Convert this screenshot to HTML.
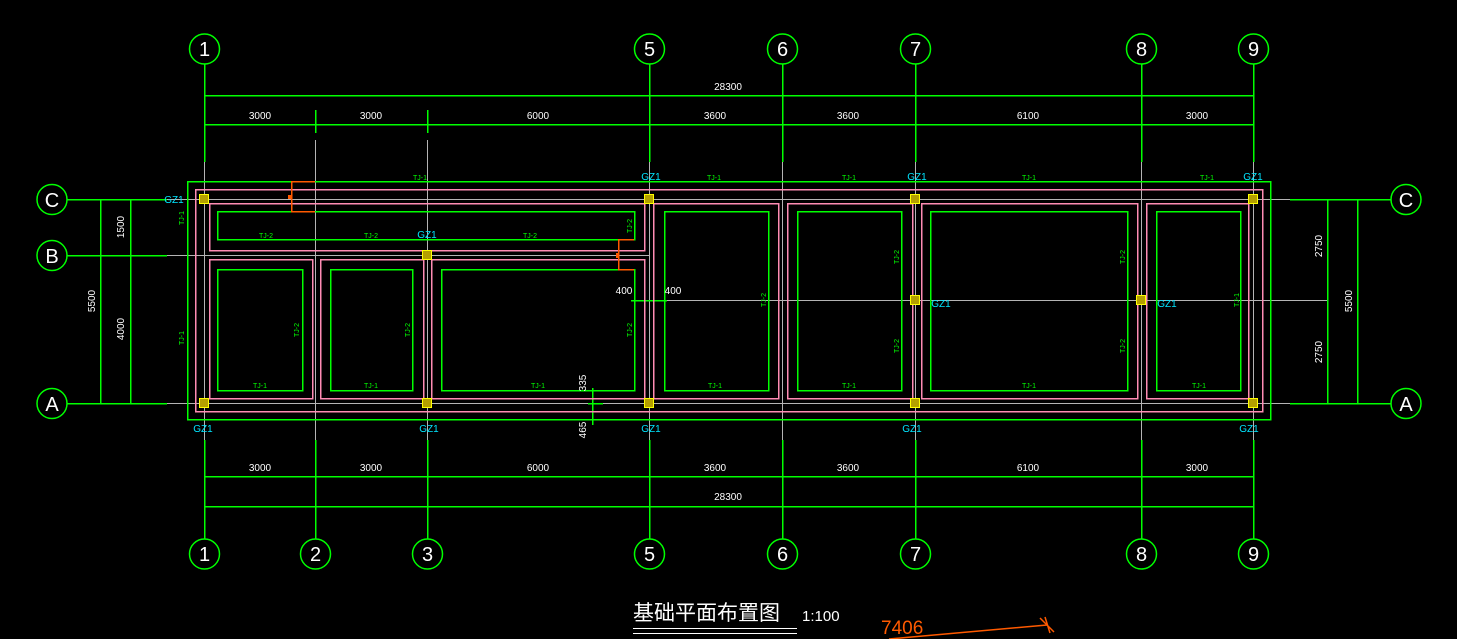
<!DOCTYPE html>
<html><head><meta charset="utf-8"><style>
html,body{margin:0;padding:0;background:#000;}
svg{display:block}
text{font-family:"Liberation Sans","Noto Sans CJK SC",sans-serif;}
.w{fill:#fff;font-size:10px;text-anchor:middle}
.g{fill:#00ff00;font-size:7px;text-anchor:middle}
.c{fill:#00e5ff;font-size:10px;text-anchor:middle}
.ci{fill:#fff;font-size:20px;text-anchor:middle}
</style></head><body>
<svg width="1457" height="639" viewBox="0 0 1457 639" xmlns="http://www.w3.org/2000/svg">
<rect width="1457" height="639" fill="#000"/>
<g stroke-width="1.5" fill="none" shape-rendering="crispEdges">
<g stroke="#00ff00">
<path d="M204.5 64V162M649.5 64V162M782.5 64V162M915.5 64V162M1141.5 64V162M1253.5 64V162"/>
<path d="M315.5 110V133M427.5 110V133"/>
<path d="M204.5 440V539M315.5 440V539M427.5 440V539M649.5 440V539M782.5 440V539M915.5 440V539M1141.5 440V539M1253.5 440V539"/>
<path d="M67 199.5H167M67 255.5H167M67 403.5H167M1290 199.5H1391M1290 403.5H1391"/>
</g>
<g stroke="#b4b4b4" stroke-width="1">
<path d="M204.5 162V440M649.5 162V440M782.5 162V440M915.5 162V440M1141.5 162V440M1253.5 162V440M315.5 140V440M427.5 140V440"/>
<path d="M167 199.5H1290M167 255.5H649M167 403.5H1290M649 300.5H1327"/>
</g>
<g stroke="#00ff00">
<path d="M204 95.5H1253M204 124.5H1253M204 476.5H1253M204 506.5H1253"/>
<path d="M100.5 199V403M130.5 199V403M1327.5 199V403M1357.5 199V403"/>
<path d="M631 300.5H667M592.5 388V425M588 403.5H603"/>
</g>
<rect x="187.5" y="181.5" width="1083" height="238" stroke="#00ff00"/>
<rect x="195.5" y="189.5" width="1067" height="222" stroke="#ff8cb4"/>
<g stroke="#ff8cb4">
<rect x="209.5" y="203.5" width="435" height="47"/>
<rect x="209.5" y="259.5" width="103" height="139"/>
<rect x="320.5" y="259.5" width="103" height="139"/>
<rect x="431.5" y="259.5" width="213" height="139"/>
<rect x="653.5" y="203.5" width="125" height="195"/>
<rect x="787.5" y="203.5" width="125" height="195"/>
<rect x="921.5" y="203.5" width="216" height="195"/>
<rect x="1146.5" y="203.5" width="102" height="195"/>
</g>
<g stroke="#00ff00">
<rect x="217.5" y="211.5" width="417" height="28"/>
<rect x="217.5" y="269.5" width="85" height="121"/>
<rect x="330.5" y="269.5" width="82" height="121"/>
<rect x="441.5" y="269.5" width="193" height="121"/>
<rect x="664.5" y="211.5" width="104" height="179"/>
<rect x="797.5" y="211.5" width="104" height="179"/>
<rect x="930.5" y="211.5" width="197" height="179"/>
<rect x="1156.5" y="211.5" width="84" height="179"/>
</g>
<g stroke="#ff5a00">
<path d="M291.5 181V211M291 181.5H315M291 211.5H315"/>
<path d="M618.5 239V269M618 239.5H634M618 269.5H634"/>
</g>
</g>
<path d="M889 639L1047 625M1040 618L1054 632M1045 617L1050 633" stroke="#ff5a00" stroke-width="1.5" fill="none"/>
<rect x="288" y="195" width="3" height="4" fill="#ff5a00"/>
<rect x="616" y="253" width="3" height="5" fill="#ff5a00"/>
<g fill="#b4a000" stroke="#ffff00" stroke-width="1" shape-rendering="crispEdges">
<rect x="199.5" y="194.5" width="9" height="9"/><rect x="644.5" y="194.5" width="9" height="9"/><rect x="910.5" y="194.5" width="9" height="9"/><rect x="1248.5" y="194.5" width="9" height="9"/>
<rect x="422.5" y="250.5" width="9" height="9"/>
<rect x="910.5" y="295.5" width="9" height="9"/><rect x="1136.5" y="295.5" width="9" height="9"/>
<rect x="199.5" y="398.5" width="9" height="9"/><rect x="422.5" y="398.5" width="9" height="9"/><rect x="644.5" y="398.5" width="9" height="9"/><rect x="910.5" y="398.5" width="9" height="9"/><rect x="1248.5" y="398.5" width="9" height="9"/>
</g>
<g stroke="#00ff00" stroke-width="1.5" fill="none">
<circle cx="204.5" cy="49" r="15"/><circle cx="649.5" cy="49" r="15"/><circle cx="782.5" cy="49" r="15"/><circle cx="915.5" cy="49" r="15"/><circle cx="1141.5" cy="49" r="15"/><circle cx="1253.5" cy="49" r="15"/>
<circle cx="204.5" cy="554" r="15"/><circle cx="315.5" cy="554" r="15"/><circle cx="427.5" cy="554" r="15"/><circle cx="649.5" cy="554" r="15"/><circle cx="782.5" cy="554" r="15"/><circle cx="915.5" cy="554" r="15"/><circle cx="1141.5" cy="554" r="15"/><circle cx="1253.5" cy="554" r="15"/>
<circle cx="52" cy="199.5" r="15"/><circle cx="52" cy="255.5" r="15"/><circle cx="52" cy="403.5" r="15"/>
<circle cx="1406" cy="199.5" r="15"/><circle cx="1406" cy="403.5" r="15"/>
</g>
<g class="ci">
<text x="204.5" y="56">1</text><text x="649.5" y="56">5</text><text x="782.5" y="56">6</text><text x="915.5" y="56">7</text><text x="1141.5" y="56">8</text><text x="1253.5" y="56">9</text>
<text x="204.5" y="561">1</text><text x="315.5" y="561">2</text><text x="427.5" y="561">3</text><text x="649.5" y="561">5</text><text x="782.5" y="561">6</text><text x="915.5" y="561">7</text><text x="1141.5" y="561">8</text><text x="1253.5" y="561">9</text>
<text x="52" y="207">C</text><text x="52" y="263">B</text><text x="52" y="411">A</text>
<text x="1406" y="207">C</text><text x="1406" y="411">A</text>
</g>
<g class="w">
<text x="728" y="90">28300</text>
<text x="260" y="119">3000</text><text x="371" y="119">3000</text><text x="538" y="119">6000</text><text x="715" y="119">3600</text><text x="848" y="119">3600</text><text x="1028" y="119">6100</text><text x="1197" y="119">3000</text>
<text x="260" y="471">3000</text><text x="371" y="471">3000</text><text x="538" y="471">6000</text><text x="715" y="471">3600</text><text x="848" y="471">3600</text><text x="1028" y="471">6100</text><text x="1197" y="471">3000</text>
<text x="728" y="500">28300</text>
<text x="624" y="294">400</text><text x="673" y="294">400</text>
<text transform="translate(95,301) rotate(-90)">5500</text>
<text transform="translate(124,227) rotate(-90)">1500</text>
<text transform="translate(124,329) rotate(-90)">4000</text>
<text transform="translate(1322,246) rotate(-90)">2750</text>
<text transform="translate(1322,352) rotate(-90)">2750</text>
<text transform="translate(1352,301) rotate(-90)">5500</text>
<text transform="translate(586,383) rotate(-90)">335</text>
<text transform="translate(586,430) rotate(-90)">465</text>
</g>
<g class="c">
<text x="174" y="203">GZ1</text><text x="651" y="180">GZ1</text><text x="917" y="180">GZ1</text><text x="1253" y="180">GZ1</text>
<text x="427" y="238">GZ1</text>
<text x="941" y="307">GZ1</text><text x="1167" y="307">GZ1</text>
<text x="203" y="432">GZ1</text><text x="429" y="432">GZ1</text><text x="651" y="432">GZ1</text><text x="912" y="432">GZ1</text><text x="1249" y="432">GZ1</text>
</g>
<g class="g">
<text x="420" y="180">TJ-1</text><text x="714" y="180">TJ-1</text><text x="849" y="180">TJ-1</text><text x="1029" y="180">TJ-1</text><text x="1207" y="180">TJ-1</text>
<text x="266" y="238">TJ-2</text><text x="371" y="238">TJ-2</text><text x="530" y="238">TJ-2</text>
<text x="260" y="388">TJ-1</text><text x="371" y="388">TJ-1</text><text x="538" y="388">TJ-1</text><text x="715" y="388">TJ-1</text><text x="849" y="388">TJ-1</text><text x="1029" y="388">TJ-1</text><text x="1199" y="388">TJ-1</text>
<text transform="translate(184,218) rotate(-90)">TJ-1</text>
<text transform="translate(184,338) rotate(-90)">TJ-1</text>
<text transform="translate(299,330) rotate(-90)">TJ-2</text>
<text transform="translate(410,330) rotate(-90)">TJ-2</text>
<text transform="translate(632,330) rotate(-90)">TJ-2</text>
<text transform="translate(632,226) rotate(-90)">TJ-2</text>
<text transform="translate(766,300) rotate(-90)">TJ-2</text>
<text transform="translate(899,257) rotate(-90)">TJ-2</text>
<text transform="translate(899,346) rotate(-90)">TJ-2</text>
<text transform="translate(1125,257) rotate(-90)">TJ-2</text>
<text transform="translate(1125,346) rotate(-90)">TJ-2</text>
<text transform="translate(1239,300) rotate(-90)">TJ-1</text>
</g>
<text x="633" y="620" fill="#fff" font-size="21" font-family="'Noto Sans CJK SC',sans-serif">基础平面布置图</text>
<path d="M633 628.5H797M633 633.5H797" stroke="#fff" stroke-width="1"/>
<text x="802" y="621" fill="#fff" font-size="15">1:100</text>
<text x="881" y="634" fill="#ff5a00" font-size="19">7406</text>
</svg>
</body></html>
